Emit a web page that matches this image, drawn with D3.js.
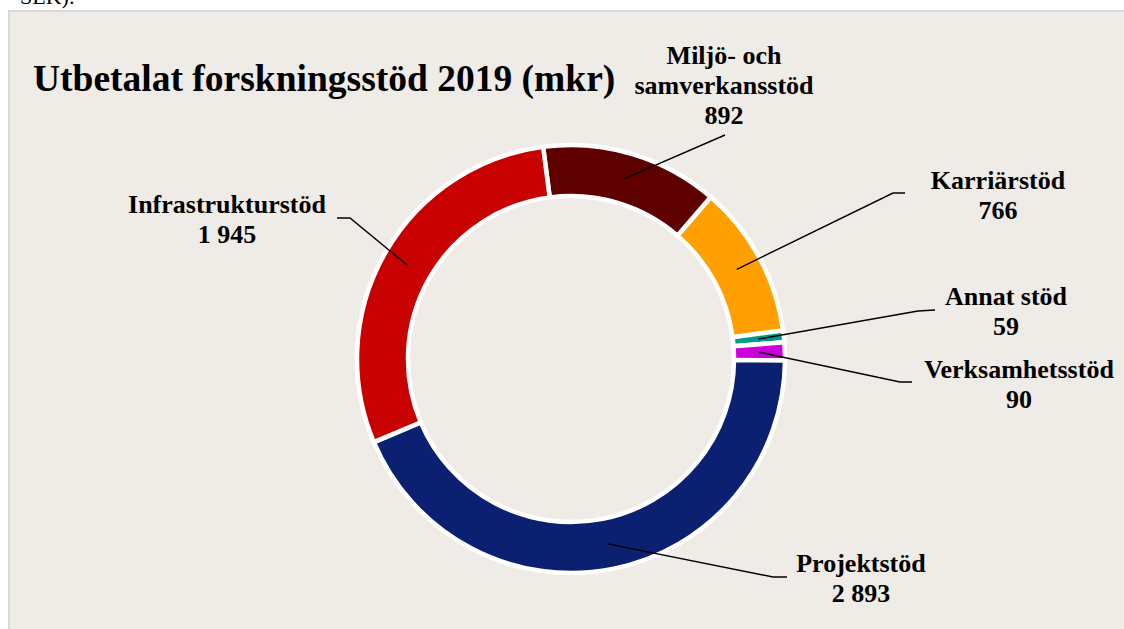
<!DOCTYPE html>
<html>
<head>
<meta charset="utf-8">
<script src="https://cdn.jsdelivr.net/npm/d3@7"></script>
<style>
  html, body { margin: 0; padding: 0; background: #fff; }
  svg { display: block; font-family: "Liberation Serif", "Times New Roman", serif; }
</style>
</head>
<body>
<div id="chart-container"></div>
<script>
// data
const categories = ['Miljö- och samverkansstöd', 'Karriärstöd', 'Annat stöd', 'Verksamhetsstöd', 'Projektstöd', 'Infrastrukturstöd'];
const labelLines = [['Miljö- och', 'samverkansstöd'], ['Karriärstöd'], ['Annat stöd'], ['Verksamhetsstöd'], ['Projektstöd'], ['Infrastrukturstöd']];
const values = [892, 766, 59, 90, 2893, 1945];
const colors = ['#5e0000', '#ffa000', '#00998c', '#cc00dd', '#0b2070', '#c80000'];

const svgCanvas = {width: 1124, height: 629};
const center = {x: 571, y: 359};
const radius = {inner: 163, outer: 214};

// label placement: text centre x, first baseline y, leader end + elbow
const labelLayout = [
    {x: 724, y: 64, end: [725, 135], elbow: null},
    {x: 998, y: 189, end: [905, 193], elbow: [893, 193]},
    {x: 1006, y: 305, end: [935, 310], elbow: [918, 311]},
    {x: 1019, y: 378, end: [912, 382], elbow: [900, 382]},
    {x: 861, y: 572, end: [787, 577], elbow: [773, 577]},
    {x: 227, y: 213, end: [337, 218], elbow: [350, 218]}
];

const sv = d3.formatLocale({decimal: ',', thousands: '\u00a0', grouping: [3], currency: ['', ' kr']});
const fmt = sv.format(',d');

const svg = d3.select('#chart-container')
    .append('svg')
    .attr('width', svgCanvas.width)
    .attr('height', svgCanvas.height);

// text cut off from the page above
svg.append('text')
    .attr('x', 20).attr('y', 4)
    .attr('font-size', 22)
    .text('SEK).');

// panel
svg.append('rect')
    .attr('x', 9).attr('y', 11)
    .attr('width', 1130).attr('height', 640)
    .attr('fill', '#efebe6')
    .attr('stroke', '#d9d9d9')
    .attr('stroke-width', 2);

svg.append('text')
    .attr('x', 33).attr('y', 91)
    .attr('font-size', 37.5)
    .attr('font-weight', 'bold')
    .text('Utbetalat forskningsstöd 2019 (mkr)');

const pie = d3.pie()
    .sort(null)
    .startAngle(-7.5 * Math.PI / 180)
    .endAngle(2 * Math.PI - 7.5 * Math.PI / 180);

const arc = d3.arc()
    .innerRadius(radius.inner)
    .outerRadius(radius.outer);

const arcs = pie(values);

const chartGroup = svg.append('g')
    .attr('transform', `translate(${center.x},${center.y})`);

chartGroup.selectAll('path')
    .data(arcs)
    .enter()
    .append('path')
    .attr('d', arc)
    .attr('fill', (d, i) => colors[i])
    .attr('stroke', '#fff')
    .attr('stroke-width', 4.5)
    .attr('stroke-linejoin', 'miter');

// leader lines
const line = d3.line();
svg.selectAll('path.leader')
    .data(arcs)
    .enter()
    .append('path')
    .attr('class', 'leader')
    .attr('fill', 'none')
    .attr('stroke', '#000')
    .attr('stroke-width', 1.4)
    .attr('d', (d, i) => {
        const c = arc.centroid(d);
        const p0 = [center.x + c[0], center.y + c[1]];
        const L = labelLayout[i];
        const pts = L.elbow ? [p0, L.elbow, L.end] : [p0, L.end];
        return line(pts);
    });

// labels
const labels = svg.selectAll('text.label')
    .data(arcs)
    .enter()
    .append('text')
    .attr('class', 'label')
    .attr('text-anchor', 'middle')
    .attr('font-size', 26)
    .attr('font-weight', 'bold');

labels.each(function(d, i) {
    const t = d3.select(this);
    const L = labelLayout[i];
    const lines = labelLines[i].concat([fmt(values[i])]);
    lines.forEach((s, k) => {
        t.append('tspan')
            .attr('x', L.x)
            .attr('y', L.y + k * 30)
            .text(s);
    });
});
</script>
</body>
</html>
